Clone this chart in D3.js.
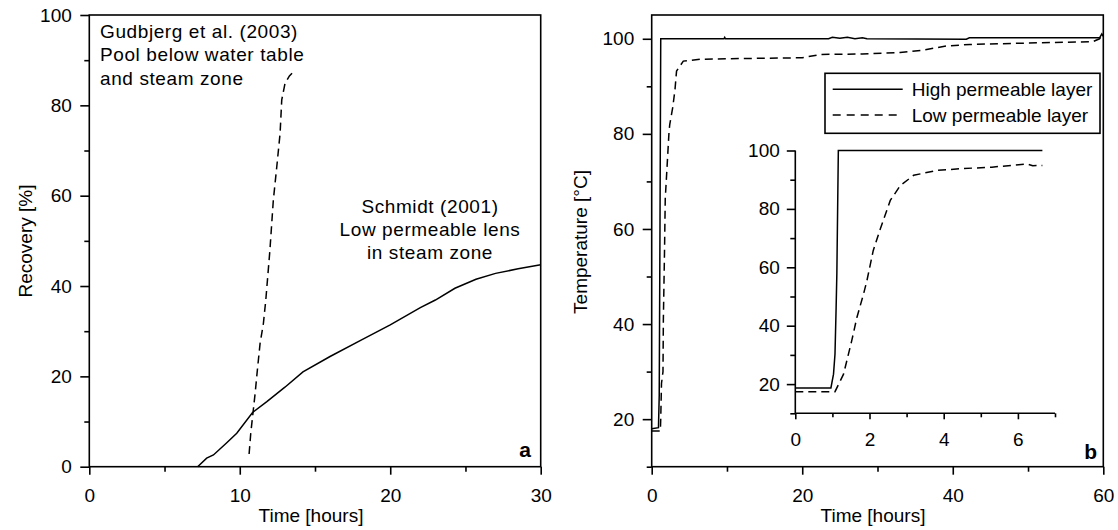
<!DOCTYPE html>
<html lang="en">
<head>
<meta charset="utf-8">
<script src="https://d3js.org/d3.v7.min.js"></script>
<title>Recovery and temperature</title>
<style>
 body { margin: 0; background: #fff; }
 svg text { font-family: "Liberation Sans", Arial, sans-serif; font-size: 19px; fill: #000; }
 .axis path { display: none; }
 .axis line { stroke: #000; stroke-width: 1.6px; }
 .axisline { stroke: #000; stroke-width: 1.6px; }
 .frame { fill: none; stroke: #000; stroke-width: 1.6px; }
 .curve { fill: none; stroke: #000; stroke-width: 1.5px; }
 .dash { stroke-dasharray: 8,5; }
 .note { letter-spacing: 0.6px; }
</style>
</head>
<body>
<svg width="1118" height="530"></svg>
<script>
// panel a - recovery vs time
var schmidtTime = [7.2, 7.8, 8.25, 9.1, 9.8, 10.85, 11.8, 13.0, 14.2, 16, 18, 20, 22, 23, 24.3, 25.7, 27, 28.5, 30];
var schmidtRec  = [0, 1.9, 2.6, 5.2, 7.4, 12, 14.4, 17.6, 21, 24.4, 27.9, 31.4, 35.2, 36.9, 39.5, 41.5, 42.8, 43.8, 44.7];
var gudTime = [10.62, 10.73, 11.02, 11.17, 11.35, 11.57, 11.73, 12.0, 12.23, 12.46, 12.68, 12.79, 13.01, 13.3, 13.56];
var gudRec  = [2.8, 7.4, 16.2, 21.4, 27.3, 31.7, 36.9, 47.8, 59, 66.4, 73.8, 81.2, 84.9, 86.5, 87.4];

// panel b - temperature vs time
var highTime = [0, 0.9, 1.0, 1.1, 1.2, 9.6, 9.7, 9.8, 23.5, 24, 25, 26, 27, 28, 28.6, 41.8, 42.2, 59.5, 59.8, 60];
var highTemp = [18, 18.2, 25, 60, 100, 100, 100.3, 100, 100, 100.3, 100.1, 100.3, 100, 100.2, 100, 99.9, 100.2, 100.2, 101, 100.5];
var lowTime = [0, 1.15, 1.2, 1.3, 1.5, 1.55, 1.7, 1.8, 2.3, 2.4, 2.8, 3.1, 3.3, 4.2, 6.4, 10, 20, 22.4, 28, 33, 36, 39.2, 42.3, 50, 58.6, 59.5, 60];
var lowTemp = [17.5, 17.5, 20, 27.5, 30, 41, 55, 66.3, 80.4, 82, 85.6, 89.4, 93.2, 95.3, 95.7, 95.8, 96, 96.7, 96.8, 97.1, 97.6, 98.5, 98.8, 99.1, 99.4, 100, 101];

// inset - first 7 hours
var insHighTime = [0, 0.96, 1.03, 1.07, 1.1, 1.12, 1.16, 6.66];
var insHighTemp = [18.7, 18.7, 23.4, 30.3, 46, 57.8, 100, 100];
var insLowTime = [0, 1.07, 1.3, 1.52, 1.66, 1.84, 1.93, 2.1, 2.3, 2.56, 2.83, 3.19, 3.82, 4.5, 5.3, 6.25, 6.4, 6.66];
var insLowTemp = [17.4, 17.4, 23.4, 34.8, 42.8, 50.9, 55.4, 65.7, 73.5, 82.9, 88, 91.5, 93.2, 93.8, 94.3, 95.4, 94.8, 94.9];

var legendLabels = ["High permeable layer", "Low permeable layer"];

// tick values
var aXTicks = [0, 10, 20, 30], aXMinor = [5, 15, 25];
var aYTicks = [0, 20, 40, 60, 80, 100], aYMinor = [10, 30, 50, 70, 90];
var bXTicks = [0, 20, 40, 60], bXMinor = [10, 30, 50];
var bYTicks = [20, 40, 60, 80, 100], bYMinor = [10, 30, 50, 70, 90];
var insXTicks = [0, 2, 4, 6], insXMinor = [1, 3, 5, 7];
var insYTicks = [20, 40, 60, 80, 100], insYMinor = [10, 30, 50, 70, 90];

var svg = d3.select("svg");

function zip(xs, ys) { return xs.map(function(d, i) { return [d, ys[i]]; }); }

// draws major + minor ticks of one axis
function axis(scale, side, major, minor, big, small, pad, y0, x0) {
  var make = side == "left" ? d3.axisLeft : d3.axisBottom;
  var tr = side == "left" ? "translate(" + x0 + ",0)" : "translate(0," + y0 + ")";
  svg.append("g").attr("class", "axis").attr("transform", tr)
    .call(make(scale).tickValues(minor).tickSize(small).tickSizeOuter(0).tickFormat(""));
  svg.append("g").attr("class", "axis").attr("transform", tr)
    .call(make(scale).tickValues(major).tickSize(big).tickSizeOuter(0).tickPadding(pad).tickFormat(d3.format("d")))
    .selectAll("text").style("font-size", "19px").style("font-family", '"Liberation Sans", Arial, sans-serif');
}

var line = d3.line();

// ---------- panel a ----------
var xa = d3.scaleLinear().domain([0, 30]).range([89.3, 540.7]);
var ya = d3.scaleLinear().domain([0, 100]).range([466.7, 15]);

svg.append("rect").attr("class", "frame")
  .attr("x", xa(0)).attr("y", ya(100))
  .attr("width", xa(30) - xa(0)).attr("height", ya(0) - ya(100));
axis(ya, "left", aYTicks, aYMinor, 9, 5, 8.5, 0, xa(0));
axis(xa, "bottom", aXTicks, aXMinor, 8, 5, 13.5, ya(0), 0);

svg.append("path").attr("class", "curve")
  .attr("d", line(zip(schmidtTime, schmidtRec).map(function(d) { return [xa(d[0]), ya(d[1])]; })));
svg.append("path").attr("class", "curve dash")
  .attr("d", line(zip(gudTime, gudRec).map(function(d) { return [xa(d[0]), ya(d[1])]; })));

var noteA = svg.append("text").attr("class", "note").attr("x", 100).attr("y", 38);
["Gudbjerg et al. (2003)", "Pool below water table", "and steam zone"].forEach(function(s, i) {
  noteA.append("tspan").attr("x", 100).attr("dy", i ? 23.4 : 0).text(s);
});
var noteB = svg.append("text").attr("class", "note").attr("text-anchor", "middle").attr("y", 213);
["Schmidt (2001)", "Low permeable lens", "in steam zone"].forEach(function(s, i) {
  noteB.append("tspan").attr("x", 430).attr("dy", i ? 22.8 : 0).text(s);
});

svg.append("text").attr("transform", "translate(31.7,241) rotate(-90)")
  .attr("text-anchor", "middle").text("Recovery [%]");
svg.append("text").attr("x", 311).attr("y", 521.5).attr("text-anchor", "middle").text("Time [hours]");
svg.append("text").attr("x", 531).attr("y", 457).attr("text-anchor", "end")
  .style("font-weight", "bold").style("font-size", "21px").text("a");

// ---------- panel b ----------
var xb = d3.scaleLinear().domain([0, 60]).range([651.7, 1103.3]);
var yb = d3.scaleLinear().domain([10, 105]).range([466.7, 15]);

svg.append("rect").attr("class", "frame")
  .attr("x", xb(0)).attr("y", yb(105))
  .attr("width", xb(60) - xb(0)).attr("height", yb(10) - yb(105));
axis(yb, "left", bYTicks, bYMinor, 9, 5, 8.5, 0, xb(0));
axis(xb, "bottom", bXTicks, bXMinor, 8, 5, 13.5, yb(10), 0);

svg.append("path").attr("class", "curve")
  .attr("d", line(zip(highTime, highTemp).map(function(d) { return [xb(d[0]), yb(d[1])]; })));
svg.append("path").attr("class", "curve dash")
  .attr("d", line(zip(lowTime, lowTemp).map(function(d) { return [xb(d[0]), yb(d[1])]; })));

svg.append("text").attr("transform", "translate(586.7,242) rotate(-90)")
  .attr("text-anchor", "middle").text("Temperature [°C]");
svg.append("text").attr("x", 873).attr("y", 521.5).attr("text-anchor", "middle").text("Time [hours]");
svg.append("text").attr("x", 1097).attr("y", 459).attr("text-anchor", "end")
  .style("font-weight", "bold").style("font-size", "21px").text("b");

// legend
var leg = svg.append("g").attr("transform", "translate(825,73.3)");
leg.append("rect").attr("class", "frame").attr("width", 275).attr("height", 60).style("fill", "#fff");
legendLabels.forEach(function(s, i) {
  var y = 16 + i * 25.7;
  leg.append("line").attr("class", "curve" + (i ? " dash" : ""))
    .attr("x1", 7.7).attr("x2", 77.7).attr("y1", y).attr("y2", y)
    .style("stroke-dasharray", i ? "8,6" : null);
  leg.append("text").attr("x", 86.7).attr("y", y + 7).text(s);
});

// ---------- inset ----------
var xi = d3.scaleLinear().domain([0, 7]).range([795.3, 1055]);
var yi = d3.scaleLinear().domain([10, 100]).range([413.3, 150.5]);

svg.append("line").attr("class", "axisline")
  .attr("x1", xi(0)).attr("x2", xi(0)).attr("y1", yi(10)).attr("y2", yi(100));
svg.append("line").attr("class", "axisline")
  .attr("x1", xi(0)).attr("x2", xi(7)).attr("y1", yi(10)).attr("y2", yi(10));
axis(yi, "left", insYTicks, insYMinor, 8.5, 5, 7, 0, xi(0));
axis(xi, "bottom", insXTicks, insXMinor, 6, 4, 13.2, yi(10), 0);

svg.append("path").attr("class", "curve")
  .attr("d", line(zip(insHighTime, insHighTemp).map(function(d) { return [xi(d[0]), yi(d[1])]; })));
svg.append("path").attr("class", "curve dash")
  .attr("d", line(zip(insLowTime, insLowTemp).map(function(d) { return [xi(d[0]), yi(d[1])]; })));
</script>
</body>
</html>
